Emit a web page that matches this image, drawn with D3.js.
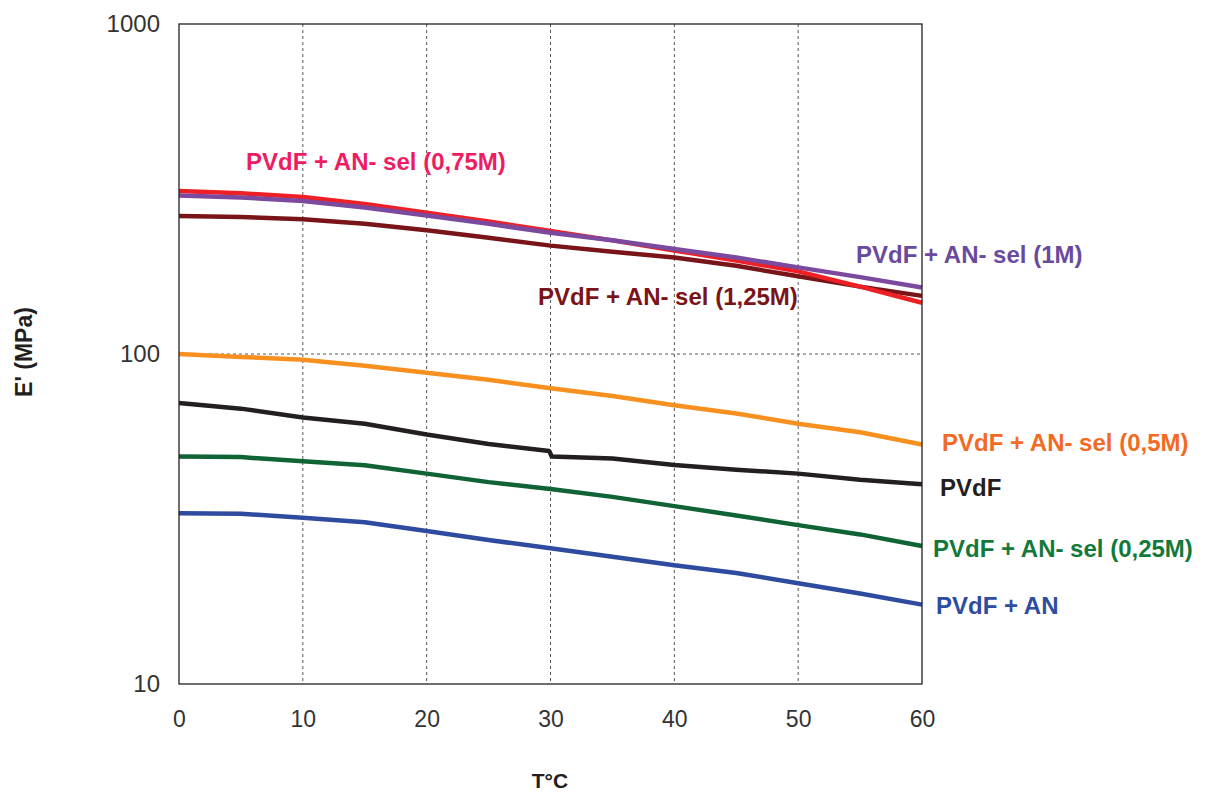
<!DOCTYPE html>
<html><head><meta charset="utf-8">
<script src="https://cdn.jsdelivr.net/npm/d3@7"></script>
<style>body{margin:0;background:#fff}svg{display:block}</style>
</head><body>
<svg id="c" width="1212" height="792"></svg>
<script>
const temps = [0,5,10,15,20,25,30,35,40,45,50,55,60];
const sRed = [312,307,299,285,268,252,236,221,206,192,178,160,143];
const sPurple = [302,298,291,278,263,248,233,221,208,196,183,171,159];
const sBrown = [262,260,256,248,237,225,213,204,196,185,172,160,150];
const sOrange = [100,98,96,92.2,87.7,83.5,78.8,74.6,69.9,66.0,61.5,57.9,53.2];
const sBlackT = [0,5,10,15,20,25,29.9,30.1,35,40,45,50,55,60];
const sBlack = [71.0,68.3,64.2,61.5,57.0,53.4,50.8,48.9,48.2,46.1,44.6,43.4,41.6,40.3];
const sGreen = [48.9,48.7,47.3,46.0,43.4,40.9,39.0,36.9,34.6,32.4,30.3,28.4,26.2];
const sBlue = [32.9,32.8,31.9,30.9,29.1,27.3,25.8,24.3,22.9,21.7,20.2,18.8,17.4];
const xTicks = [0,10,20,30,40,50,60];
const yTicks = [10,100,1000];
const labels = [
  {text:"PVdF + AN- sel (0,75M)", color:"#ee1d63", x:246, y:162},
  {text:"PVdF + AN- sel (1M)", color:"#6a4a9e", x:856, y:255},
  {text:"PVdF + AN- sel (1,25M)", color:"#7a1418", x:538, y:297},
  {text:"PVdF + AN- sel (0,5M)", color:"#f26a24", x:942, y:443},
  {text:"PVdF", color:"#231f20", x:940, y:488},
  {text:"PVdF + AN- sel (0,25M)", color:"#12793b", x:933, y:549},
  {text:"PVdF + AN", color:"#2e4ca0", x:936, y:606}
];
const series = [
  {t:temps, v:sOrange, c:"#f7901e"},
  {t:sBlackT, v:sBlack, c:"#231f20"},
  {t:temps, v:sGreen, c:"#106334"},
  {t:temps, v:sBlue, c:"#2f4b9f"},
  {t:temps, v:sBrown, c:"#791518"},
  {t:temps, v:sRed, c:"#ee1f25"},
  {t:temps, v:sPurple, c:"#7b4a9e"}
];

const FONT = "Arial, 'Liberation Sans', sans-serif";
const L=179, R=922, T=24, B=684;
const svg = d3.select("#c");
const x = d3.scaleLinear().domain([0,60]).range([L,R]);
const y = d3.scaleLog().domain([10,1000]).range([B,T]);

// grid
const g = svg.append("g");
g.selectAll("line.vg").data(xTicks.slice(1,-1)).join("line")
  .attr("x1",d=>x(d)).attr("x2",d=>x(d)).attr("y1",T).attr("y2",B)
  .attr("stroke","#555").attr("stroke-width",1).attr("stroke-dasharray","3,3");
g.selectAll("line.hg").data([100]).join("line")
  .attr("x1",L).attr("x2",R).attr("y1",d=>y(d)).attr("y2",d=>y(d))
  .attr("stroke","#555").attr("stroke-width",1).attr("stroke-dasharray","3,3");

// axes
const xAxis = d3.axisBottom(x).tickValues(xTicks).tickSize(0).tickPadding(27).tickFormat(d3.format("d"));
const gx = svg.append("g").attr("transform",`translate(0,${B})`).call(xAxis);
gx.select(".domain").remove();
gx.selectAll("text").attr("font-family",FONT).attr("font-size",23).attr("fill","#333");
const yAxis = d3.axisLeft(y).tickValues(yTicks).tickSize(0).tickPadding(19).tickFormat(d3.format("d"));
const gy = svg.append("g").attr("transform",`translate(${L},0)`).call(yAxis);
gy.select(".domain").remove();
gy.selectAll("text").attr("font-family",FONT).attr("font-size",24).attr("fill","#333");

// lines
const line = d3.line().x(d=>x(d[0])).y(d=>y(d[1]));
series.forEach(s=>{
  svg.append("path").datum(s.t.map((t,i)=>[t,s.v[i]]))
    .attr("d",line).attr("fill","none").attr("stroke",s.c).attr("stroke-width",4.5).attr("stroke-linejoin","round");
});

// labels
svg.selectAll("text.lbl").data(labels).join("text").attr("class","lbl")
  .attr("x",d=>d.x).attr("y",d=>d.y).attr("dy","0.35em").text(d=>d.text)
  .attr("fill",d=>d.color).attr("font-family",FONT)
  .attr("font-weight","bold").attr("font-size",24);

// frame
svg.append("rect").attr("x",L).attr("y",T).attr("width",R-L).attr("height",B-T)
  .attr("fill","none").attr("stroke","#231f20").attr("stroke-width",1.3);

// axis titles
svg.append("text").attr("transform","translate(32,352) rotate(-90)").attr("text-anchor","middle")
  .attr("font-family",FONT).attr("font-weight","bold").attr("font-size",23)
  .attr("fill","#231f20").text("E' (MPa)");
svg.append("text").attr("x",550).attr("y",788).attr("text-anchor","middle")
  .attr("font-family",FONT).attr("font-weight","bold").attr("font-size",21)
  .attr("fill","#231f20").text("T°C");
</script>
</body></html>
